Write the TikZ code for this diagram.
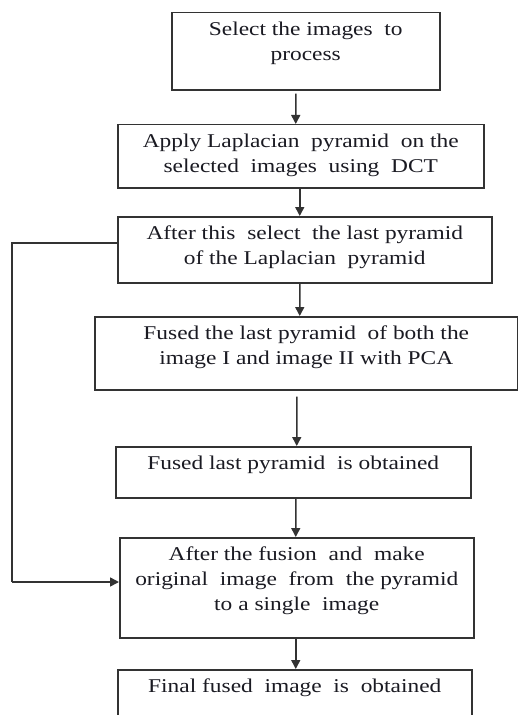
\documentclass[tikz,border=0pt]{standalone}
\usepackage{fontspec}
\setmainfont{Liberation Serif}[FakeStretch=1.2]
\usetikzlibrary{arrows.meta}
\definecolor{ln}{HTML}{333333}
\definecolor{tx}{HTML}{1A1A22}
\tikzset{
  box/.style={draw=ln, line width=1.5bp, inner sep=0pt, anchor=north west, text=tx},
  arr/.style={draw=ln, line width=1.5bp, -{Triangle[length=9bp,width=9bp]}},
  link/.style={draw=ln, line width=1.5bp}
}
\newcommand\fbx[7]{\node[box] (#1) at (#2,#3) {\parbox[c][#5bp][t]{#4bp}{\centering\vspace*{#6bp}\fontsize{19.5bp}{25bp}\selectfont #7\par}};}
\begin{document}
\begin{tikzpicture}[x=1bp,y=-1bp]
\fill[white] (0,0) rectangle (518,715);
\useasboundingbox (0,0) rectangle (518,715);
\clip (0,0) rectangle (518,715);
\fbx{b1}{171}{12}{268}{77}{9.5}{Select the images\ \ to\\process}
\fbx{b2}{117}{124}{366}{63}{9.5}{Apply Laplacian\ \ pyramid\ \ on the\\selected\ \ images\ \ using\ \ DCT}
\fbx{b3}{117}{216}{374}{66}{9.5}{After this\ \ select\ \ the last pyramid\\of the Laplacian\ \ pyramid}
\fbx{b4}{94}{316}{423}{73}{9.5}{Fused the last pyramid\ \ of both the\\image I and image II with PCA}
\fbx{b5}{115}{446}{355}{51}{9.5}{Fused last pyramid\ \ is obtained}
\fbx{b6}{119}{537}{354}{100}{9.5}{After the fusion\ \ and\ \ make\\original\ \ image\ \ from\ \ the pyramid\\to a single\ \ image}
\fbx{b7}{117}{669}{354}{80}{9}{Final fused\ \ image\ \ is\ \ obtained}
\draw[arr, shorten <=3bp] ([xshift=-10bp]b1.south) -- ([xshift=-5bp]b2.north);
\draw[arr] ([xshift=-1bp]b2.south) -- ([xshift=-5bp]b3.north);
\draw[arr] ([xshift=-5bp]b3.south) -- ([xshift=-6.5bp]b4.north);
\draw[arr, shorten <=6bp] ([xshift=-9.5bp]b4.south) -- ([xshift=3.5bp]b5.north);
\draw[arr] ([xshift=2.5bp]b5.south) -- ([xshift=-1bp]b6.north);
\draw[arr] ([xshift=-1bp]b6.south) -- ([xshift=1bp]b7.north);
\coordinate (c1) at (12,243);
\coordinate (c2) at (12,582);
\draw[link] (b3.west |- c1) -- (c1) -- (c2);
\draw[arr] (c2) -- (b6.west |- c2);
\end{tikzpicture}
\end{document}
